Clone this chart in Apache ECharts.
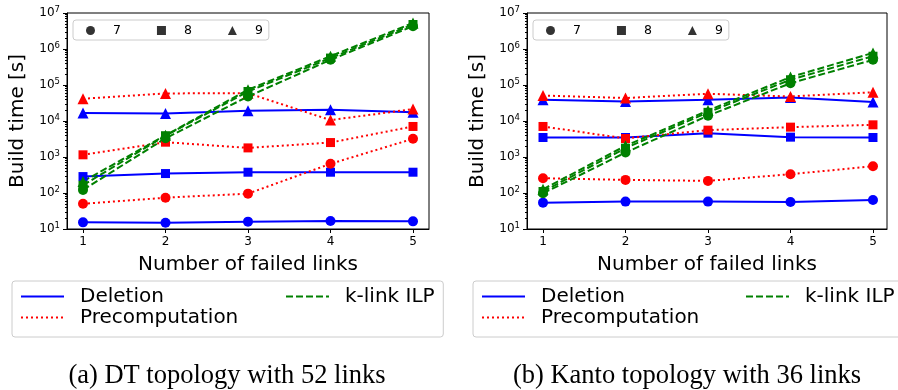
<!DOCTYPE html>
<html>
<head>
<meta charset="utf-8">
<script src="https://cdn.jsdelivr.net/npm/echarts@6.0.0/dist/echarts.min.js"></script>
<style>
  html, body { margin: 0; padding: 0; background: #fff; }
  #chart { width: 898px; height: 390px; }
</style>
</head>
<body>
<div id="chart"></div>
<script>
// x axis: number of failed links
const failedLinks = [1, 2, 3, 4, 5];
const sizeNames = ['7', '8', '9'];
const sizeSymbols = ['circle', 'rect', 'triangle'];
const methodNames = ['Deletion', 'Precomputation', 'k-link ILP'];
const decadeExps = [1, 2, 3, 4, 5, 6, 7];
const minorMults = [2, 3, 4, 5, 6, 7, 8, 9];

// DT topology, build time [s] for sizes 7 / 8 / 9
const dtDeletion7 = [15.3, 15, 16, 16.7, 16.3];
const dtDeletion8 = [286, 347, 378, 378, 378];
const dtDeletion9 = [16600, 16200, 19200, 20400, 17500];
const dtPrecomp7 = [50, 74, 96, 646, 3200];
const dtPrecomp8 = [1150, 2580, 1790, 2520, 7050];
const dtPrecomp9 = [41500, 58400, 59000, 10600, 21400];
const dtIlp7 = [122, 3300, 48000, 500000, 4.3e6];
const dtIlp8 = [165, 3900, 66000, 560000, 4.8e6];
const dtIlp9 = [210, 4000, 74000, 630000, 5.3e6];

// Kanto topology
const kantoDeletion7 = [54, 57.6, 57.6, 56, 64];
const kantoDeletion8 = [3480, 3480, 4600, 3560, 3480];
const kantoDeletion9 = [39000, 34800, 39000, 45000, 33500];
const kantoPrecomp7 = [258, 231, 217, 332, 555];
const kantoPrecomp8 = [7050, 3270, 5570, 6750, 7830];
const kantoPrecomp9 = [51000, 43500, 57000, 48000, 63000];
const kantoIlp7 = [98, 1330, 14000, 112000, 500000];
const kantoIlp8 = [110, 1760, 17400, 140000, 630000];
const kantoIlp9 = [127, 2040, 19500, 166000, 780000];

const panels = [
  {
    caption: '(a) DT topology with 52 links',
    data: {
      'Deletion': [dtDeletion7, dtDeletion8, dtDeletion9],
      'Precomputation': [dtPrecomp7, dtPrecomp8, dtPrecomp9],
      'k-link ILP': [dtIlp7, dtIlp8, dtIlp9]
    }
  },
  {
    caption: '(b) Kanto topology with 36 links',
    data: {
      'Deletion': [kantoDeletion7, kantoDeletion8, kantoDeletion9],
      'Precomputation': [kantoPrecomp7, kantoPrecomp8, kantoPrecomp9],
      'k-link ILP': [kantoIlp7, kantoIlp8, kantoIlp9]
    }
  }
];

// layout of each panel (pixels)
const layout = [
  { left: 67, width: 362, xMin: 0.806, xMax: 5.194, markerLeft: 73, legLeft: 12, ilpLeft: 285, capX: 227 },
  { left: 527, width: 360, xMin: 0.806, xMax: 5.17, markerLeft: 533, legLeft: 473, ilpLeft: 745, capX: 687 }
];

const methodStyles = {
  'Deletion': { color: '#0000ff', type: 'solid' },
  'Precomputation': { color: '#ff0000', type: [2, 3] },
  'k-link ILP': { color: '#008000', type: [7, 3] }
};
const symbolSizes = [10, 9, 11];

const minorTicks = [];
decadeExps.slice(0, -1).forEach(e => {
  minorMults.forEach(m => minorTicks.push(e + Math.log10(m)));
});

const font = 'DejaVu Sans';
const grids = [], xAxes = [], yAxes = [], series = [], legends = [], graphics = [];

panels.forEach((panel, p) => {
  const L = layout[p];
  grids.push({
    left: L.left, top: 13, width: L.width, height: 216,
    show: true, borderColor: '#000', borderWidth: 1, backgroundColor: 'transparent'
  });
  xAxes.push({
    type: 'value', gridIndex: p, min: L.xMin, max: L.xMax,
    name: 'Number of failed links', nameLocation: 'middle', nameGap: 26,
    nameTextStyle: { fontSize: 20, color: '#000', fontFamily: font },
    axisLine: { onZero: false, lineStyle: { color: '#000', width: 1 } },
    axisTick: { customValues: failedLinks, length: 4, lineStyle: { color: '#000' } },
    axisLabel: { customValues: failedLinks, color: '#000', fontSize: 12, margin: 7, fontFamily: font },
    splitLine: { show: false }
  });
  yAxes.push({
    type: 'log', logBase: 10, gridIndex: p, min: 10, max: 1e7, position: 'left',
    name: 'Build time [s]', nameLocation: 'middle', nameGap: 39,
    nameTextStyle: { fontSize: 20, color: '#000', fontFamily: font },
    axisLine: { show: true, lineStyle: { color: '#000', width: 1 } },
    axisTick: { show: true, length: 4, lineStyle: { color: '#000' } },
    axisLabel: {
      color: '#000', fontSize: 12, margin: 7, fontFamily: font,
      formatter: v => '10{s|' + Math.round(Math.log10(v)) + '}',
      rich: { s: { fontSize: 8.5, color: '#000', padding: [0, 0, 7, 0], fontFamily: font } }
    },
    splitLine: { show: false }
  });
  // helper axis for the minor log ticks (linear in log10 space)
  yAxes.push({
    type: 'value', gridIndex: p, min: 1, max: 7, position: 'left', offset: 0,
    axisLine: { show: false },
    axisTick: { show: true, customValues: minorTicks, length: 2, lineStyle: { color: '#000' } },
    axisLabel: { show: false },
    splitLine: { show: false }
  });

  methodNames.forEach(method => {
    const st = methodStyles[method];
    panel.data[method].forEach((vals, s) => {
      series.push({
        type: 'line', name: method,
        xAxisIndex: p, yAxisIndex: p * 2,
        data: failedLinks.map((x, i) => [x, vals[i]]),
        symbol: sizeSymbols[s], symbolSize: symbolSizes[s],
        showSymbol: true,
        lineStyle: { color: st.color, width: 2, type: st.type },
        itemStyle: { color: st.color },
        emphasis: { disabled: true }
      });
    });
  });

  legends.push({
    data: sizeNames.map((n, i) => ({ name: n, icon: sizeSymbols[i] })),
    left: L.markerLeft, top: 20, orient: 'horizontal',
    itemWidth: 9, itemHeight: 9, itemGap: 36,
    padding: [4, 6, 3, 13],
    backgroundColor: '#fff', borderColor: '#cccccc', borderWidth: 1, borderRadius: 3,
    selectedMode: false,
    formatter: n => '{g|}' + n,
    textStyle: { fontSize: 12.5, color: '#000', fontFamily: font, rich: { g: { width: 13 } } }
  });
  legends.push({
    data: ['Deletion', 'Precomputation'],
    left: L.legLeft, top: 281, orient: 'vertical',
    itemWidth: 43, itemHeight: 12, itemGap: 0,
    padding: [5, 205, 9, 8],
    borderColor: '#cccccc', borderWidth: 1, borderRadius: 3,
    selectedMode: false,
    itemStyle: { opacity: 0 },
    formatter: n => '{g|}' + n,
    textStyle: { fontSize: 20, lineHeight: 21, color: '#000', fontFamily: font, rich: { g: { width: 11 } } }
  });
  legends.push({
    data: ['k-link ILP'],
    left: L.ilpLeft, top: 286, orient: 'vertical',
    itemWidth: 43, itemHeight: 12, padding: 0,
    selectedMode: false,
    itemStyle: { opacity: 0 },
    formatter: n => '{g|}' + n,
    textStyle: { fontSize: 20, lineHeight: 21, color: '#000', fontFamily: font, rich: { g: { width: 11 } } }
  });

  graphics.push({
    type: 'text', x: L.capX, y: 376,
    style: {
      text: panel.caption, fill: '#000', textAlign: 'center', textVerticalAlign: 'middle',
      font: '26.5px "Liberation Serif"'
    }
  });
});

// black marker entries for the size legend
sizeNames.forEach((n, i) => {
  series.push({
    type: 'scatter', name: n, xAxisIndex: 0, yAxisIndex: 0, data: [],
    symbol: sizeSymbols[i], itemStyle: { color: '#000' }
  });
});

const chart = echarts.init(document.getElementById('chart'));
chart.setOption({
  animation: false,
  backgroundColor: '#fff',
  textStyle: { fontFamily: font },
  grid: grids,
  xAxis: xAxes,
  yAxis: yAxes,
  legend: legends,
  series: series,
  graphic: graphics
});
</script>
</body>
</html>
